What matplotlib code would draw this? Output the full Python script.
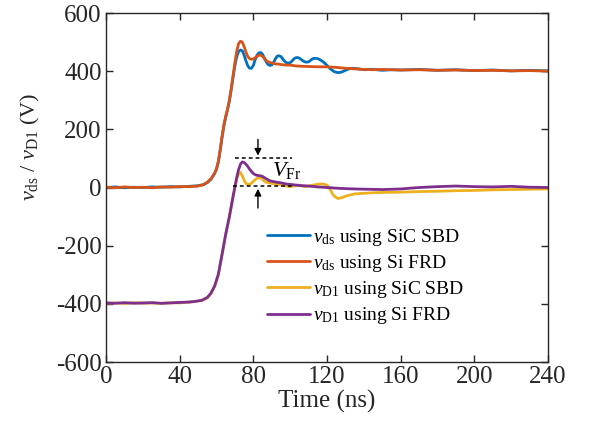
import matplotlib
matplotlib.use("Agg")
import matplotlib.pyplot as plt

plt.rcParams["font.family"] = ["Liberation Serif", "DejaVu Serif"]
plt.rcParams["mathtext.fontset"] = "custom"
plt.rcParams["mathtext.rm"] = "Liberation Serif"
plt.rcParams["mathtext.it"] = "Liberation Serif:italic"
plt.rcParams["axes.unicode_minus"] = False

# Drain-source voltage, SiC SBD freewheeling diode
t_ds_sic = [0, 5, 10, 15, 20, 25, 30, 35, 40, 45, 50, 53, 55, 57, 59, 60, 61, 62, 63, 64,
            65, 66, 67, 68, 69, 70, 71, 72, 73, 74, 75, 76, 77, 78, 79, 80, 81, 82, 83, 84,
            85, 86, 87, 88, 89, 90, 91, 92, 93, 94, 95, 96, 97, 98, 99, 100, 101, 102, 103,
            104, 105, 106, 107, 108, 109, 110, 111, 112, 113, 114, 115, 116, 118, 120, 122,
            124, 126, 128, 130, 132, 134, 137, 140, 145, 150, 155, 160, 170, 180, 190, 200,
            210, 220, 230, 240]
v_ds_sic = [0, 2, -1, 1, 0, 2, 1, 3, 2, 4, 6, 10, 17, 28, 48, 63, 88, 128, 172, 212,
            242, 268, 298, 338, 380, 420, 450, 468, 473, 470, 455, 435, 418, 410, 410, 420, 440, 455, 463, 464,
            458, 445, 432, 423, 420, 421, 430, 443, 452, 453, 450, 442, 434, 429, 428, 429, 435, 442, 446,
            447, 445, 440, 435, 432, 431, 432, 437, 442, 444, 444, 443, 440, 432, 420, 407,
            398, 395, 397, 403, 408, 410, 408, 405, 406, 403, 405, 404, 406, 403, 405, 402,
            404, 401, 403, 401]

# Drain-source voltage, Si FRD freewheeling diode
t_ds_frd = [0, 5, 10, 15, 20, 25, 30, 35, 40, 45, 50, 53, 55, 57, 59, 60, 61, 62, 63, 64,
            65, 66, 67, 68, 69, 70, 71, 72, 73, 74, 75, 76, 77, 78, 79, 80, 81, 82, 83, 84,
            85, 86, 87, 88, 89, 90, 92, 94, 96, 98, 100, 103, 106, 110, 115, 120, 125, 130,
            135, 140, 145, 150, 160, 170, 180, 190, 200, 210, 220, 230, 240]
v_ds_frd = [1, -1, 2, 0, 1, -1, 2, 1, 3, 3, 5, 10, 18, 30, 50, 65, 90, 130, 175, 215,
            245, 270, 300, 340, 385, 430, 470, 495, 503, 500, 485, 465, 450, 443, 441, 442, 446, 451, 455, 455,
            451, 444, 437, 432, 430, 428, 425, 424, 422, 421, 421, 418, 417, 416, 415, 415, 413, 410,
            408, 406, 405, 406, 404, 405, 403, 404, 402, 403, 401, 402, 400]

# Diode voltage, SiC SBD
t_d1_sic = [0, 5, 10, 15, 20, 25, 30, 35, 40, 45, 48, 52, 55, 57, 59, 61, 63, 65, 67, 69,
            70, 71, 72, 73, 74, 75, 76, 77, 78, 79, 80, 81, 82, 83, 84, 85, 86, 87, 88, 90,
            92, 94, 96, 98, 100, 102, 104, 106, 108, 110, 112, 114, 116, 118, 120, 121, 122, 123,
            124, 126, 128, 131, 135, 140, 145, 150, 160, 170, 180, 190, 200, 210, 220, 230, 240]
v_d1_sic = [-398, -397, -399, -396, -398, -397, -399, -396, -397, -394, -392, -388, -380, -365, -340, -300, -232, -162, -100, -32,
            0, 30, 48, 52, 40, 25, 14, 10, 11, 15, 21, 27, 32, 34, 33, 28, 22, 18, 17, 14,
            12, 10, 8, 5, 3, 5, 8, 6, 3, 5, 8, 10, 12, 12, 8, 0, -10, -22,
            -30, -38, -35, -28, -22, -20, -18, -17, -16, -14, -13, -11, -10, -8, -7, -6, -5]

# Diode voltage, Si FRD
t_d1_frd = [0, 5, 10, 15, 20, 25, 30, 35, 40, 45, 48, 52, 55, 57, 59, 61, 63, 65, 67, 69,
            71, 72, 73, 74, 75, 76, 77, 78, 79, 80, 81, 82, 83, 84, 85, 87, 89, 92, 95, 98,
            101, 105, 110, 115, 120, 127, 135, 142, 150, 160, 170, 180, 190, 200, 210, 220, 230, 240]
v_d1_frd = [-397, -398, -396, -398, -397, -396, -398, -397, -395, -394, -392, -388, -378, -363, -338, -298, -230, -160, -100, -30,
            35, 62, 80, 88, 86, 80, 72, 63, 55, 48, 44, 42, 41, 40, 38, 30, 23, 19, 16, 12,
            10, 7, 5, 2, 0, -3, -5, -6, -7, -5, 0, 3, 5, 3, 2, 4, 1, 0]

series_labels = [r"$v_{\mathrm{ds}}$ using SiC SBD",
                 r"$v_{\mathrm{ds}}$ using Si FRD",
                 r"$v_{\mathrm{D1}}$ using SiC SBD",
                 r"$v_{\mathrm{D1}}$ using Si FRD"]
series_colors = ["#0072BD", "#D95319", "#EDB120", "#7E2F8E"]

x_ticks = [0, 40, 80, 120, 160, 200, 240]
y_ticks = [-600, -400, -200, 0, 200, 400, 600]

# Forward-recovery overshoot markers
vfr_top = 100
vfr_bottom = 5
vfr_t_start = 70
vfr_t_end = 101
vfr_arrow_t = 82.5

fig = plt.figure(figsize=(5.89, 4.28), dpi=100)
ax = fig.add_axes([0.18, 0.1542, 0.7504, 0.8154])

series = [(t_ds_sic, v_ds_sic), (t_ds_frd, v_ds_frd), (t_d1_sic, v_d1_sic), (t_d1_frd, v_d1_frd)]
for (t, v), lab, col in zip(series, series_labels, series_colors):
    ax.plot(t, v, color=col, lw=2.0, label=lab, solid_joinstyle="round", solid_capstyle="round")

ax.plot([vfr_t_start, vfr_t_end], [vfr_top, vfr_top], color="black", lw=1.1, ls=(0, (2.5, 2)))
ax.plot([vfr_t_start - 1, vfr_t_end], [vfr_bottom, vfr_bottom], color="black", lw=1.1, ls=(0, (2.5, 2)))
ax.annotate("", xy=(vfr_arrow_t, vfr_top), xytext=(vfr_arrow_t, vfr_top + 75),
            arrowprops=dict(arrowstyle="-|>", color="black", lw=1.0, mutation_scale=10))
ax.annotate("", xy=(vfr_arrow_t, vfr_bottom), xytext=(vfr_arrow_t, vfr_bottom - 85),
            arrowprops=dict(arrowstyle="-|>", color="black", lw=1.0, mutation_scale=10))
ax.text(90, 57, r"$V_{\mathrm{Fr}}$", fontsize=16, ha="left", va="center")

ax.set_xlim(0, 240)
ax.set_ylim(-600, 600)
ax.set_xticks(x_ticks)
ax.set_yticks(y_ticks)
ax.set_xticklabels([str(v) for v in x_ticks])
ax.set_yticklabels([str(v) for v in y_ticks])
ax.tick_params(direction="in", top=True, right=True, length=5, width=1.0,
               labelsize=18, colors="#262626", pad=3)
for s in ax.spines.values():
    s.set_color("#262626")
    s.set_linewidth(1.0)

ax.set_xlabel("Time (ns)", fontsize=18, labelpad=1, color="#262626")
fig.text(30 / 589, 1 - 147 / 428, r"$v_{\mathrm{ds}}$ / $v_{\mathrm{D1}}$ (V)", fontsize=16,
         rotation=90, ha="center", va="center", color="#262626")

leg = ax.legend(loc="upper left", bbox_to_anchor=(0.364, 0.388), frameon=False, fontsize=14,
                handlelength=2.2, handletextpad=0.15, labelspacing=0.27, borderpad=0,
                borderaxespad=0)

fig.savefig("out.png", dpi=100)
